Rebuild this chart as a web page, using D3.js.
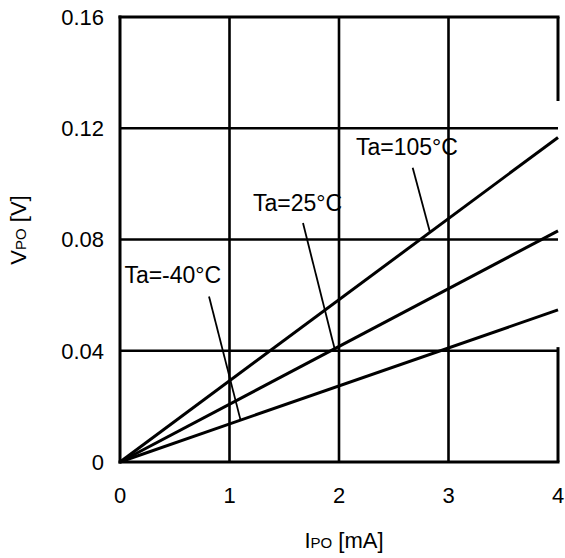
<!DOCTYPE html>
<html>
<head>
<meta charset="utf-8">
<script src="https://cdn.jsdelivr.net/npm/d3@7"></script>
<style>
  html, body { margin: 0; padding: 0; background: #fff; }
  text { font-family: "Liberation Sans", Arial, sans-serif; fill: #000; }
</style>
</head>
<body>
<svg id="chart" width="565" height="558"></svg>
<script>
// ---- data ----
const xTicks = [0, 1, 2, 3, 4];
const yTicks = [0, 0.04, 0.08, 0.12, 0.16];
const xTickLabels = ["0", "1", "2", "3", "4"];
const yTickLabels = ["0", "0.04", "0.08", "0.12", "0.16"];
const seriesNames = ["Ta=105°C", "Ta=25°C", "Ta=-40°C"];
const seriesIpo = [[0, 4], [0, 4], [0, 4]];
const seriesVpo = [[0, 0.1167], [0, 0.0831], [0, 0.0547]];
// annotation: label anchor (I, V), leader start (I, V), leader end I on the series
const labelAnchorI = [2.155, 1.215, 0.04];
const labelAnchorV = [0.1104, 0.0902, 0.0644];
const leaderStartI = [2.673, 1.671, 0.813];
const leaderStartV = [0.1058, 0.0859, 0.0595];
const leaderEndI = [2.831, 1.96, 1.101];
// right frame edge is drawn only over these V ranges
const rightEdgeRanges = [[0.1298, 0.16], [0, 0.0413]];

// ---- layout ----
const svg = d3.select("#chart");
const x = d3.scaleLinear().domain([0, 4]).range([120, 558]);
const y = d3.scaleLinear().domain([0, 0.16]).range([462, 17]);
const SW = 3;

// gridlines
const g = svg.append("g");
g.selectAll("line.vg").data(xTicks.slice(1, -1)).join("line")
  .attr("x1", d => x(d)).attr("x2", d => x(d))
  .attr("y1", y(0.16)).attr("y2", y(0))
  .attr("stroke", "#000").attr("stroke-width", 2.6);
g.selectAll("line.hg").data(yTicks.slice(1, -1)).join("line")
  .attr("x1", x(0)).attr("x2", x(4))
  .attr("y1", d => y(d)).attr("y2", d => y(d))
  .attr("stroke", "#000").attr("stroke-width", 2.6);

// frame
g.append("line").attr("x1", x(0)).attr("x2", x(0)).attr("y1", y(0.16) - 1.5).attr("y2", y(0) + 1.5)
  .attr("stroke", "#000").attr("stroke-width", SW);
g.append("line").attr("x1", x(0) - 1.5).attr("x2", x(4) + 1.5).attr("y1", y(0.16)).attr("y2", y(0.16))
  .attr("stroke", "#000").attr("stroke-width", SW);
g.append("line").attr("x1", x(0) - 1.5).attr("x2", x(4) + 1.5).attr("y1", y(0)).attr("y2", y(0))
  .attr("stroke", "#000").attr("stroke-width", SW);
g.selectAll("line.re").data(rightEdgeRanges).join("line")
  .attr("x1", x(4)).attr("x2", x(4))
  .attr("y1", d => y(d[0])).attr("y2", d => y(d[1]))
  .attr("stroke", "#000").attr("stroke-width", SW);

// series lines
const line = d3.line().x(d => x(d[0])).y(d => y(d[1]));
seriesNames.forEach((name, i) => {
  const pts = seriesIpo[i].map((v, j) => [v, seriesVpo[i][j]]);
  svg.append("path").datum(pts).attr("d", line)
    .attr("fill", "none").attr("stroke", "#000").attr("stroke-width", 3);
});

// annotations
seriesNames.forEach((name, i) => {
  const slope = seriesVpo[i][1] / seriesIpo[i][1];
  const ex = leaderEndI[i], ey = slope * ex;
  svg.append("line")
    .attr("x1", x(leaderStartI[i])).attr("y1", y(leaderStartV[i]))
    .attr("x2", x(ex)).attr("y2", y(ey))
    .attr("stroke", "#000").attr("stroke-width", 1.8);
  svg.append("text")
    .attr("x", x(labelAnchorI[i])).attr("y", y(labelAnchorV[i]))
    .attr("font-size", 23).text(name);
});

// tick labels
svg.selectAll("text.xt").data(xTicks).join("text")
  .attr("x", d => x(d)).attr("y", 503)
  .attr("text-anchor", "middle").attr("font-size", 22)
  .text((d, i) => xTickLabels[i]);
svg.selectAll("text.yt").data(yTicks).join("text")
  .attr("x", 104).attr("y", d => y(d)).attr("dy", "0.36em")
  .attr("text-anchor", "end").attr("font-size", 22)
  .text((d, i) => yTickLabels[i]);

// axis titles
const xt = svg.append("text").attr("x", 344).attr("y", 548)
  .attr("text-anchor", "middle").attr("font-size", 22);
xt.append("tspan").text("I");
xt.append("tspan").attr("font-size", 15).text("PO");
xt.append("tspan").text(" [mA]");

const yt = svg.append("text")
  .attr("transform", "translate(26,230) rotate(-90)")
  .attr("text-anchor", "middle").attr("font-size", 22);
yt.append("tspan").text("V");
yt.append("tspan").attr("font-size", 15).text("PO");
yt.append("tspan").text(" [V]");
</script>
</body>
</html>
